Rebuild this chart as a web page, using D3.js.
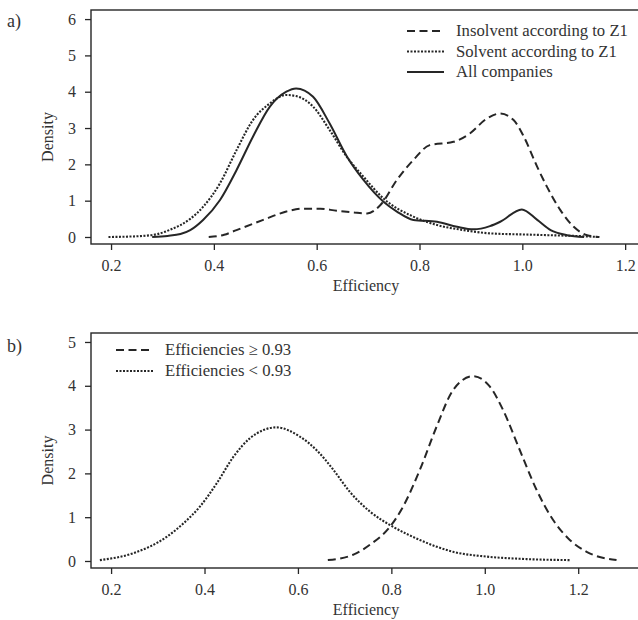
<!DOCTYPE html>
<html>
<head>
<meta charset="utf-8">
<script src="https://cdn.jsdelivr.net/npm/d3@7"></script>
<style>
  body { margin: 0; background: #fff; }
  text { font-family: "Liberation Serif", "Times New Roman", serif; fill: #333; }
</style>
</head>
<body>
<div id="chart"></div>
<script>
// Panel a) densities
const insolventX = [0.39, 0.42, 0.444, 0.496, 0.541, 0.574, 0.607, 0.639, 0.67, 0.698, 0.724, 0.756, 0.788, 0.82, 0.866, 0.898, 0.93, 0.957, 0.983, 1.003, 1.029, 1.048, 1.074, 1.1, 1.126, 1.15];
const insolventY = [0.0, 0.06, 0.19, 0.47, 0.7, 0.78, 0.78, 0.72, 0.68, 0.65, 0.88, 1.57, 2.12, 2.53, 2.62, 2.85, 3.25, 3.4, 3.22, 2.76, 1.93, 1.38, 0.74, 0.28, 0.05, 0.0];

const solventX = [0.195, 0.25, 0.29, 0.315, 0.354, 0.379, 0.412, 0.444, 0.476, 0.509, 0.541, 0.56, 0.593, 0.625, 0.659, 0.691, 0.73, 0.788, 0.834, 0.886, 0.937, 1.0, 1.05, 1.1, 1.15];
const solventY = [0.0, 0.02, 0.08, 0.2, 0.5, 0.83, 1.48, 2.39, 3.22, 3.68, 3.91, 3.88, 3.59, 2.95, 2.2, 1.66, 1.06, 0.56, 0.33, 0.19, 0.1, 0.07, 0.05, 0.03, 0.0];

const allX = [0.28, 0.31, 0.335, 0.354, 0.379, 0.412, 0.444, 0.476, 0.509, 0.541, 0.56, 0.593, 0.625, 0.659, 0.691, 0.73, 0.756, 0.788, 0.834, 0.873, 0.905, 0.937, 0.957, 0.999, 1.029, 1.055, 1.087, 1.12];
const allY = [0.0, 0.03, 0.08, 0.19, 0.47, 1.02, 1.84, 2.76, 3.59, 4.0, 4.09, 3.86, 3.13, 2.21, 1.57, 0.97, 0.7, 0.47, 0.42, 0.28, 0.21, 0.3, 0.42, 0.76, 0.47, 0.19, 0.05, 0.0];

// Panel b) densities
const highX = [0.664, 0.72, 0.754, 0.797, 0.825, 0.861, 0.897, 0.932, 0.975, 1.011, 1.039, 1.075, 1.111, 1.146, 1.182, 1.218, 1.282];
const highY = [0.02, 0.15, 0.37, 0.78, 1.24, 2.08, 3.07, 3.9, 4.22, 3.98, 3.45, 2.53, 1.62, 0.94, 0.48, 0.21, 0.02];

const lowX = [0.176, 0.248, 0.319, 0.355, 0.39, 0.426, 0.462, 0.497, 0.554, 0.604, 0.64, 0.676, 0.711, 0.754, 0.804, 0.861, 0.932, 1.004, 1.075, 1.182];
const lowY = [0.02, 0.18, 0.55, 0.86, 1.24, 1.77, 2.38, 2.8, 3.05, 2.84, 2.53, 2.08, 1.58, 1.13, 0.78, 0.48, 0.21, 0.1, 0.05, 0.02];

const xTicks = [0.2, 0.4, 0.6, 0.8, 1.0, 1.2];
const yTicksA = [0, 1, 2, 3, 4, 5, 6];
const yTicksB = [0, 1, 2, 3, 4, 5];

const legendA = ["Insolvent according to Z1", "Solvent according to Z1", "All companies"];
const legendB = ["Efficiencies \u2265 0.93", "Efficiencies < 0.93"];

const ink = "#262626";
const styles = {
  dashed: "8,4.5",
  dotted: "2,1.5",
  solid: null
};

const svg = d3.select("#chart").append("svg")
  .attr("width", 638)
  .attr("height", 620);

function zip(xs, ys) { return xs.map((x, i) => [x, ys[i]]); }

function panel(cfg) {
  const g = svg.append("g");
  const x = d3.scaleLinear().domain(cfg.xDomain).range([91, 638]);
  const y = d3.scaleLinear().domain(cfg.yDomain).range([cfg.bottom, cfg.top]);

  // box (right side runs off the picture)
  g.append("rect")
    .attr("x", 91).attr("y", cfg.top)
    .attr("width", 560).attr("height", cfg.bottom - cfg.top)
    .attr("fill", "none").attr("stroke", ink).attr("stroke-width", 1.4);

  const xAxis = g.append("g")
    .attr("transform", `translate(0,${cfg.bottom})`)
    .call(d3.axisBottom(x).tickValues(xTicks).tickSize(6).tickPadding(10).tickFormat(d3.format(".1f")));
  const yAxis = g.append("g")
    .attr("transform", "translate(91,0)")
    .call(d3.axisLeft(y).tickValues(cfg.yTicks).tickSize(6).tickPadding(9).tickFormat(d3.format("d")));
  [xAxis, yAxis].forEach(a => {
    a.select(".domain").remove();
    a.selectAll("line").attr("stroke", ink).attr("stroke-width", 1.3);
    a.selectAll("text").style("font-size", "16px").attr("fill", "#333")
      .style("font-family", "'Liberation Serif', serif");
  });

  g.append("text")
    .attr("x", 366).attr("y", cfg.bottom + 47)
    .attr("text-anchor", "middle").style("font-size", "16px")
    .text("Efficiency");
  g.append("text")
    .attr("transform", `translate(53,${(cfg.top + cfg.bottom) / 2 + 10}) rotate(-90)`)
    .attr("text-anchor", "middle").style("font-size", "16px")
    .text("Density");
  g.append("text")
    .attr("x", 7).attr("y", cfg.labelY)
    .style("font-size", "18px")
    .text(cfg.label);

  const line = d3.line()
    .x(d => x(d[0])).y(d => y(d[1]))
    .curve(d3.curveMonotoneX);

  cfg.series.forEach(s => {
    g.append("path")
      .datum(zip(s.xs, s.ys))
      .attr("d", line)
      .attr("fill", "none")
      .attr("stroke", ink)
      .attr("stroke-width", s.style === "dotted" ? 2.1 : 2)
      .attr("stroke-dasharray", styles[s.style]);
  });

  // legend
  cfg.series.forEach((s, i) => {
    const cy = cfg.legendY + i * cfg.legendStep;
    g.append("line")
      .attr("x1", cfg.legendX).attr("x2", cfg.legendX + 37)
      .attr("y1", cy).attr("y2", cy)
      .attr("stroke", ink).attr("stroke-width", 2)
      .attr("stroke-dasharray", styles[s.style]);
    g.append("text")
      .attr("x", cfg.legendX + 49).attr("y", cy + 5)
      .style("font-size", "16.7px")
      .text(s.name);
  });
}

panel({
  label: "a)", labelY: 27,
  top: 10, bottom: 244,
  xDomain: [0.161, 1.225], yDomain: [-0.193, 6.25], yTicks: yTicksA,
  legendX: 407, legendY: 31, legendStep: 20.5,
  series: [
    { name: legendA[0], xs: insolventX, ys: insolventY, style: "dashed" },
    { name: legendA[1], xs: solventX, ys: solventY, style: "dotted" },
    { name: legendA[2], xs: allX, ys: allY, style: "solid" }
  ]
});

panel({
  label: "b)", labelY: 352,
  top: 333, bottom: 568,
  xDomain: [0.157, 1.328], yDomain: [-0.16, 5.205], yTicks: yTicksB,
  legendX: 116, legendY: 350, legendStep: 21,
  series: [
    { name: legendB[0], xs: highX, ys: highY, style: "dashed" },
    { name: legendB[1], xs: lowX, ys: lowY, style: "dotted" }
  ]
});
</script>
</body>
</html>
